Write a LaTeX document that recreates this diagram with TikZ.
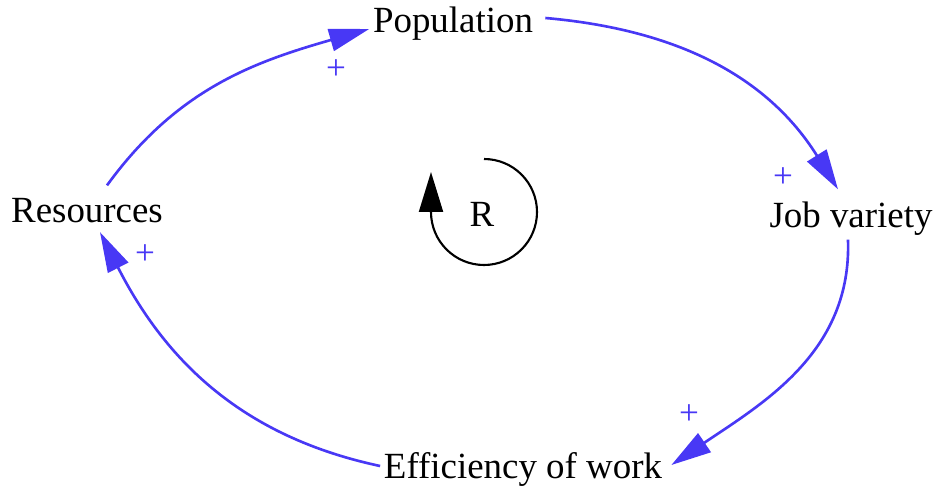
\documentclass[tikz,border=0pt]{standalone}
\usepackage{fontspec}
\setmainfont{Liberation Serif}
\usetikzlibrary{arrows.meta}
\definecolor{linkblue}{HTML}{4838F5}
\tikzset{
  var/.style={font=\fontsize{21}{25}\selectfont, inner sep=2pt},
  link/.style={draw=linkblue, line width=1.5pt,
               -{Triangle[length=8mm, width=4.5mm]}},
  polarity/.style={text=linkblue, font=\fontsize{20}{24}\selectfont, inner sep=0pt},
  looptag/.style={font=\fontsize{21}{25}\selectfont},
  turn/.style={draw=black, line width=1.2pt, -{Triangle[length=8mm, width=4.8mm]}},
}
\begin{document}
\begin{tikzpicture}
    \useasboundingbox (0,0) rectangle (18.76,9.78);
    % variables
    \node[var] (pop) at (9.06, 9.30) {Population};
    \node[var] (res) at (1.74, 5.56) {Resources};
    \node[var] (job) at (17.02, 5.40) {Job variety};
    \node[var] (eff) at (10.46, 0.40) {Efficiency of work};
    \node[looptag] (r) at (9.64, 5.50) {R};
    % links
    \draw[link] ([shift={(0.4,0.19)}]res.north) to[out=54, in=196] ([yshift=-1mm]pop.west);
    \draw[link] ([shift={(0.17,0.12)}]pop.east) to[out=-5, in=122] ([shift={(-0.26,0.18)}]job.north);
    \draw[link] ([xshift=-0.6mm]job.south) to[out=-88, in=34] ([shift={(0.11,0.08)}]eff.east);
    \draw[link] ([yshift=0.6mm]eff.west) to[out=168, in=-63] ([shift={(0.26,-0.1)}]res.south);
    % polarities
    \node[polarity] (p1) at (6.72, 8.38) {+};
    \node[polarity] (p2) at (15.66, 6.22) {+};
    \node[polarity] (p3) at (13.78, 1.48) {+};
    \node[polarity] (p4) at (2.90, 4.68) {+};
    % loop marker
    \coordinate (rc) at (9.68, 5.54);
    \draw[turn] ([yshift=10.6mm]rc) arc[start angle=90, end angle=-180, radius=10.6mm] -- ++(0,8mm);
\end{tikzpicture}
\end{document}
